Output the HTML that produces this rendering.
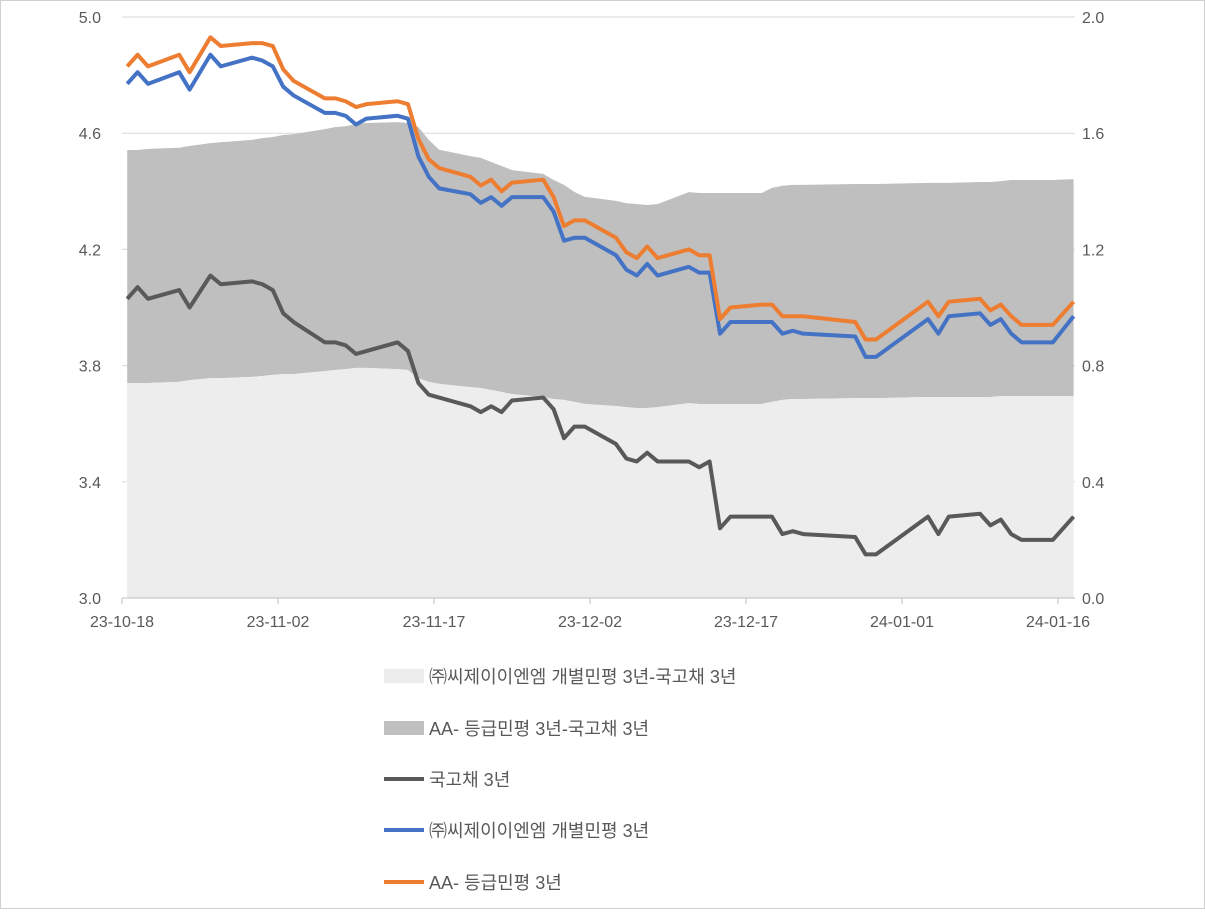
<!DOCTYPE html>
<html><head><meta charset="utf-8">
<style>
html,body{margin:0;padding:0;background:#fff;}
body{width:1205px;height:909px;overflow:hidden;font-family:"Liberation Sans","Noto Sans CJK KR",sans-serif;}
svg text{font-family:"Liberation Sans","Noto Sans CJK KR",sans-serif;}
</style></head>
<body>
<svg id="chart" width="1205" height="909" xmlns="http://www.w3.org/2000/svg">
<rect x="0.5" y="0.5" width="1204" height="908" fill="#fff" stroke="#d0d0d0"/>
<g id="grid"></g><g id="areas"></g><g id="axes"></g><g id="lines"></g><g id="legend"></g>
</svg>
<script>
const days=[0,1,2,5,6,8,9,12,13,14,15,16,19,20,21,22,23,26,27,28,29,30,33,34,35,36,37,40,41,42,43,44,47,48,49,50,51,54,55,56,57,58,61,62,63,64,65,70,71,72,77,78,79,82,83,84,85,86,89,91];
const govt=[4.03,4.07,4.03,4.06,4.00,4.11,4.08,4.09,4.08,4.06,3.98,3.95,3.88,3.88,3.87,3.84,3.85,3.88,3.85,3.74,3.70,3.69,3.66,3.64,3.66,3.64,3.68,3.69,3.65,3.55,3.59,3.59,3.53,3.48,3.47,3.50,3.47,3.47,3.45,3.47,3.24,3.28,3.28,3.28,3.22,3.23,3.22,3.21,3.15,3.15,3.28,3.22,3.28,3.29,3.25,3.27,3.22,3.20,3.20,3.28];
const cjYield=[4.77,4.81,4.77,4.81,4.75,4.87,4.83,4.86,4.85,4.83,4.76,4.73,4.67,4.67,4.66,4.63,4.65,4.66,4.65,4.52,4.45,4.41,4.39,4.36,4.38,4.35,4.38,4.38,4.33,4.23,4.24,4.24,4.18,4.13,4.11,4.15,4.11,4.14,4.12,4.12,3.91,3.95,3.95,3.95,3.91,3.92,3.91,3.90,3.83,3.83,3.96,3.91,3.97,3.98,3.94,3.96,3.91,3.88,3.88,3.97];
const aaYield=[4.83,4.87,4.83,4.87,4.81,4.93,4.90,4.91,4.91,4.90,4.82,4.78,4.72,4.72,4.71,4.69,4.70,4.71,4.70,4.58,4.51,4.48,4.45,4.42,4.44,4.40,4.43,4.44,4.38,4.28,4.30,4.30,4.24,4.19,4.17,4.21,4.17,4.20,4.18,4.18,3.96,4.00,4.01,4.01,3.97,3.97,3.97,3.95,3.89,3.89,4.02,3.97,4.02,4.03,3.99,4.01,3.97,3.94,3.94,4.02];
const cjSpread=[0.740,0.740,0.740,0.744,0.750,0.757,0.757,0.761,0.764,0.768,0.771,0.771,0.781,0.785,0.788,0.792,0.792,0.788,0.785,0.757,0.744,0.737,0.726,0.723,0.716,0.709,0.702,0.692,0.685,0.682,0.675,0.668,0.661,0.657,0.654,0.654,0.657,0.671,0.668,0.668,0.668,0.668,0.668,0.675,0.682,0.685,0.685,0.688,0.688,0.688,0.692,0.692,0.692,0.692,0.692,0.695,0.695,0.695,0.695,0.695];
const aaSpread=[0.802,0.802,0.806,0.806,0.806,0.809,0.812,0.816,0.819,0.819,0.823,0.826,0.833,0.836,0.836,0.840,0.843,0.850,0.850,0.864,0.833,0.806,0.795,0.792,0.785,0.778,0.771,0.768,0.754,0.740,0.723,0.713,0.706,0.702,0.702,0.699,0.699,0.726,0.726,0.726,0.726,0.726,0.726,0.737,0.737,0.737,0.737,0.737,0.737,0.737,0.737,0.737,0.737,0.740,0.740,0.740,0.744,0.744,0.744,0.747];
const leftTicks=["3.0","3.4","3.8","4.2","4.6","5.0"];
const rightTicks=["0.0","0.4","0.8","1.2","1.6","2.0"];
const xTickLabels=["23-10-18","23-11-02","23-11-17","23-12-02","23-12-17","24-01-01","24-01-16"];
const xTickDays=[0,15,30,45,60,75,90];

const NS="http://www.w3.org/2000/svg";
const X0=122,PX=10.4,Y0=598,Y1=17;
const xs=d=>X0+PX*(d+0.5);
const xt=d=>X0+PX*d;
const yl=v=>Y0-(v-3)/2*(Y0-Y1);
const yr=v=>Y0-v/2*(Y0-Y1);
function mk(tag,attrs,parent){const e=document.createElementNS(NS,tag);for(const k in attrs)e.setAttribute(k,attrs[k]);parent.appendChild(e);return e;}
const grid=document.getElementById('grid'),areas=document.getElementById('areas'),axes=document.getElementById('axes'),lines=document.getElementById('lines'),legend=document.getElementById('legend');
const xRight=1075;
leftTicks.forEach((t,i)=>{const v=parseFloat(t);const y=yl(v);
 const g=mk('line',{x1:X0,x2:xRight,y1:y,y2:y,stroke:i==0?'#bfbfbf':'#d9d9d9','stroke-width':1},grid);
 
 const tx=mk('text',{x:101,y:y+6,'text-anchor':'end','font-size':16,fill:'#595959'},axes);tx.textContent=t;
 
});
rightTicks.forEach(t=>{const y=yr(parseFloat(t));
 const tx=mk('text',{x:1082,y:y+6,'text-anchor':'start','font-size':16,fill:'#595959'},axes);tx.textContent=t;
 
});
// stacked areas
let lightPts=[],darkTop=[];
days.forEach((d,i)=>{lightPts.push(xs(d)+','+yr(cjSpread[i]));darkTop.push(xs(d)+','+yr(cjSpread[i]+aaSpread[i]));});
const first=xs(days[0]),last=xs(days[days.length-1]);
const darkPoly=mk('polygon',{points:darkTop.join(' ')+' '+lightPts.slice().reverse().join(' '),fill:'#bfbfbf'},areas);

const lightPoly=mk('polygon',{points:first+','+Y0+' '+lightPts.join(' ')+' '+last+','+Y0,fill:'#ededed'},areas);

// x axis
const ax=mk('line',{x1:X0,x2:xRight,y1:Y0,y2:Y0,stroke:'#bfbfbf','stroke-width':1},axes);

xTickDays.forEach((d,i)=>{const x=xt(d);
 const tk=mk('line',{x1:x,x2:x,y1:Y0,y2:Y0+6,stroke:'#bfbfbf'},axes);
 
 const tx=mk('text',{x:x,y:627,'text-anchor':'middle','font-size':16,fill:'#595959'},axes);tx.textContent=xTickLabels[i];
 
});
function drawLine(vals,color,name){const p=days.map((d,i)=>xs(d)+','+yl(vals[i])).join(' ');
 const l=mk('polyline',{points:p,fill:'none',stroke:color,'stroke-width':4,'stroke-linejoin':'round'},lines);
 }
drawLine(govt,'#595959','govt-3y-line');
drawLine(cjYield,'#4472c4','cj-3y-line');
drawLine(aaYield,'#ed7d31','aa-3y-line');
// legend
const items=[["㈜씨제이이엔엠 개별민평 3년-국고채 3년",'rect','#ededed',676],["AA- 등급민평 3년-국고채 3년",'rect','#bfbfbf',728],["국고채 3년",'line','#595959',779],["㈜씨제이이엔엠 개별민평 3년",'line','#4472c4',830],["AA- 등급민평 3년",'line','#ed7d31',882]];
items.forEach(it=>{const g=mk('g',{},legend);
 
 if(it[1]=='rect')mk('rect',{x:384,y:it[3]-7,width:40,height:14,fill:it[2]},g);
 else mk('line',{x1:384,x2:424,y1:it[3],y2:it[3],stroke:it[2],'stroke-width':4},g);
 const t=mk('text',{x:429,y:it[3]+7,'font-size':18,fill:'#595959'},g);t.textContent=it[0];});
</script>
</body></html>
